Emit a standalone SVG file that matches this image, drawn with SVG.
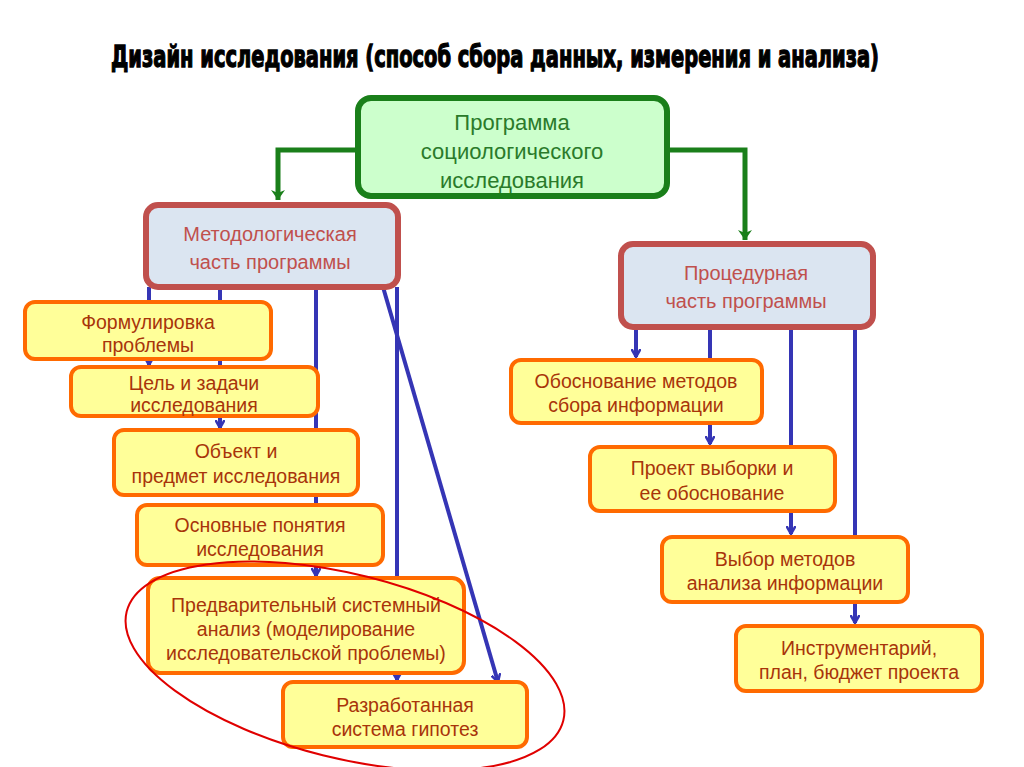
<svg xmlns="http://www.w3.org/2000/svg" width="1024" height="767" viewBox="0 0 1024 767">
<style>
.title{font-family:"DejaVu Sans Condensed","DejaVu Sans",sans-serif;font-weight:bold;font-size:24px;fill:#000;stroke:#000;stroke-width:1}
.gbox{fill:#ccffcc;stroke:#1a7f1a;stroke-width:6}
.gtxt{font-family:"Liberation Sans",Arial,sans-serif;font-size:22px;fill:#2a7a2a;text-anchor:middle}
.rbox{fill:#dbe5f1;stroke:#c0504d;stroke-width:6}
.rtxt{font-family:"Liberation Sans",Arial,sans-serif;font-size:20px;fill:#c0504d;text-anchor:middle}
.obox{fill:#ffff99;stroke:#ff6a00;stroke-width:4}
.otxt{font-family:"Liberation Sans",Arial,sans-serif;font-size:19.5px;fill:#a8340a;text-anchor:middle}
.blue{stroke:#3535b5;stroke-width:4;fill:none}
.green{stroke:#1a7f1a;stroke-width:5;fill:none}
</style>
<defs>
<marker id="ab" markerWidth="10" markerHeight="10" refX="8" refY="5" orient="auto" markerUnits="userSpaceOnUse" viewBox="0 0 10 10">
<path d="M0,0.5 L8,5 L0,9.5" fill="none" stroke="#3535b5" stroke-width="2.5"/>
</marker>
<marker id="ag" markerWidth="12" markerHeight="14" refX="10" refY="7" orient="auto" markerUnits="userSpaceOnUse" viewBox="0 0 12 14">
<path d="M0,0 L10,7 L0,14 L3,7 Z" fill="#1a7f1a"/>
</marker>
</defs>
<rect width="1024" height="767" fill="#fff"/>
<text class="title" transform="translate(111,67) scale(1,1.25)" x="0" y="0" textLength="768" lengthAdjust="spacingAndGlyphs">Дизайн исследования (способ сбора данных, измерения и анализа)</text>

<g id="connectors">
<path class="green" d="M358,150 H278 V200" marker-end="url(#ag)"/>
<path class="green" d="M667,150 H745 V240" marker-end="url(#ag)"/>
<path class="blue" d="M149,287 V365" marker-end="url(#ab)"/>
<path class="blue" d="M220,287 V428" marker-end="url(#ab)"/>
<path class="blue" d="M316,287 V576" marker-end="url(#ab)"/>
<path class="blue" d="M397,287 V680" marker-end="url(#ab)"/>
<path class="blue" d="M383,287 L498,682" marker-end="url(#ab)"/>
<path class="blue" d="M636,327 V357" marker-end="url(#ab)"/>
<path class="blue" d="M710,327 V444" marker-end="url(#ab)"/>
<path class="blue" d="M791,327 V534" marker-end="url(#ab)"/>
<path class="blue" d="M855,327 V623" marker-end="url(#ab)"/>
</g>

<g id="program">
<rect class="gbox" x="358" y="98" width="309" height="98" rx="13"/>
<text class="gtxt" x="512" y="130">Программа</text>
<text class="gtxt" x="512" y="159">социологического</text>
<text class="gtxt" x="512" y="188">исследования</text>
</g>
<g id="method">
<rect class="rbox" x="146" y="205" width="252" height="82" rx="12"/>
<text class="rtxt" x="270" y="241">Методологическая</text>
<text class="rtxt" x="270" y="269">часть программы</text>
</g>
<g id="proc">
<rect class="rbox" x="621" y="244" width="252" height="83" rx="12"/>
<text class="rtxt" x="746" y="280">Процедурная</text>
<text class="rtxt" x="746" y="308">часть программы</text>
</g>

<g id="n1"><rect class="obox" x="25" y="302" width="246" height="57" rx="10"/>
<text class="otxt" x="148" y="329">Формулировка</text><text class="otxt" x="148" y="352">проблемы</text></g>
<g id="n2"><rect class="obox" x="71" y="367" width="247" height="49" rx="10"/>
<text class="otxt" x="194" y="390">Цель и задачи</text><text class="otxt" x="194" y="412">исследования</text></g>
<g id="n3"><rect class="obox" x="114" y="430" width="244" height="65" rx="10"/>
<text class="otxt" x="236" y="458">Объект и</text><text class="otxt" x="236" y="483">предмет исследования</text></g>
<g id="n4"><rect class="obox" x="137" y="505" width="246" height="60" rx="10"/>
<text class="otxt" x="260" y="532">Основные понятия</text><text class="otxt" x="260" y="556">исследования</text></g>
<g id="n5"><rect class="obox" x="148" y="578" width="316" height="95" rx="12"/>
<text class="otxt" x="306" y="612">Предварительный системный</text><text class="otxt" x="306" y="636">анализ (моделирование</text><text class="otxt" x="306" y="660">исследовательской проблемы)</text></g>
<g id="n6"><rect class="obox" x="283" y="682" width="244" height="65" rx="10"/>
<text class="otxt" x="405" y="712">Разработанная</text><text class="otxt" x="405" y="736">система гипотез</text></g>

<g id="m1"><rect class="obox" x="511" y="360" width="251" height="63" rx="10"/>
<text class="otxt" x="636" y="388">Обоснование методов</text><text class="otxt" x="636" y="412">сбора информации</text></g>
<g id="m2"><rect class="obox" x="590" y="447" width="245" height="64" rx="10"/>
<text class="otxt" x="712" y="475">Проект выборки и</text><text class="otxt" x="712" y="500">ее обоснование</text></g>
<g id="m3"><rect class="obox" x="662" y="537" width="246" height="65" rx="10"/>
<text class="otxt" x="785" y="566">Выбор методов</text><text class="otxt" x="785" y="590">анализа информации</text></g>
<g id="m4"><rect class="obox" x="736" y="626" width="246" height="65" rx="10"/>
<text class="otxt" x="859" y="655">Инструментарий,</text><text class="otxt" x="859" y="679">план, бюджет проекта</text></g>

<ellipse id="highlight" cx="345" cy="666" rx="225" ry="92" transform="rotate(14 345 666)" fill="none" stroke="#e00000" stroke-width="2"/>
</svg>
